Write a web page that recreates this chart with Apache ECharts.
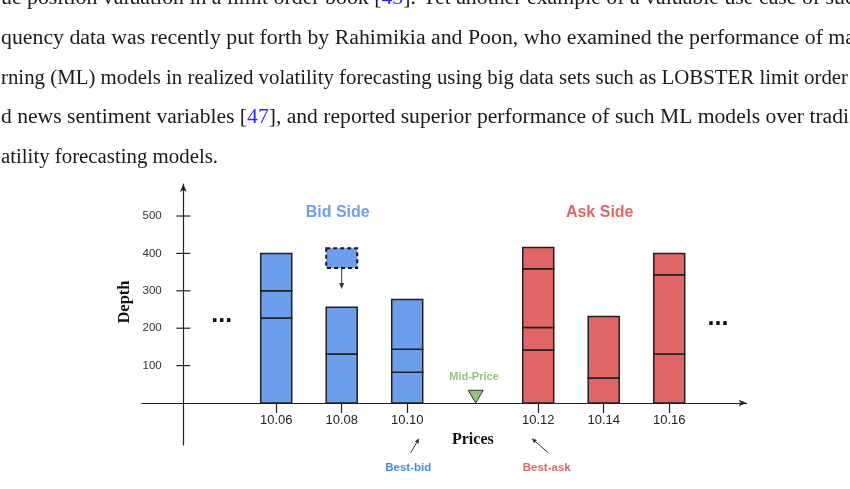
<!DOCTYPE html>
<html>
<head>
<meta charset="utf-8">
<script src="https://cdn.jsdelivr.net/npm/echarts@6/dist/echarts.min.js"></script>
<style>
html,body{margin:0;padding:0;background:#fff;}
#c{width:850px;height:489px;}
</style>
</head>
<body>
<div id="c"></div>
<script>
// ---------------- data ----------------
const categories = ['10.06', '10.08', '10.10', 'Mid-Price', '10.12', '10.14', '10.16'];
const sides      = ['bid', 'bid', 'bid', 'mid', 'ask', 'ask', 'ask'];
// order sizes at each price level, bottom to top
const level1 = [227, 131, 82, null, 142, 67, 131];
const level2 = [73, 125, 62, null, 60, 164, 212];
const level3 = [100, null, 133, null, 157, null, 57];
const level4 = [null, null, null, null, 57, null, null];
const depthTicks = [100, 200, 300, 400, 500];
// incoming order: price, low, high, arrow target depth
const incomingPrice = '10.08';
const incomingOrder = [361, 414, 305];
const sideTitles = ['Bid Side', 'Ask Side'];
const sideTitleAt = ['10.08', '10.14'];
const bestQuotes = ['Best-bid', 'Best-ask'];
const bestQuoteAt = ['10.10', '10.12'];
const paragraph = [
  'ue position valuation in a limit order book [{b|45}]. Yet another example of a valuable use case of such',
  'quency data was recently put forth by Rahimikia and Poon, who examined the performance of ma',
  'rning (ML) models in realized volatility forecasting using big data sets such as LOBSTER limit order',
  'd news sentiment variables [{b|47}], and reported superior performance of such ML models over tradi',
  'atility forecasting models.'
];

// ---------------- styles ----------------
const BLUE = '#6d9eeb', RED = '#e06666', GREEN = '#93c47d', INK = '#222';
const BAR_W = 31;
const Y_AXIS_SHIFT = 41.3;   // y axis drawn this far right of grid left edge
const X_AXIS_SHIFT = 42;     // x axis drawn this far above grid bottom edge

// ---------------- build ----------------
const levels = [level1, level2, level3, level4];
const segData = [];
categories.forEach((c, i) => {
  let base = 0;
  levels.forEach(lv => {
    const v = lv[i];
    if (v != null) { segData.push([i, base, base + v, sides[i] === 'bid' ? 0 : 1]); base += v; }
  });
});
const tickIdx = categories.map((c, i) => i).filter(i => sides[i] !== 'mid');
const midIdx = sides.indexOf('mid');

function arrow(x0, y0, x1, y1, len, hw, color, lw) {
  const dx = x1 - x0, dy = y1 - y0, L = Math.hypot(dx, dy), ux = dx / L, uy = dy / L;
  const bx = x1 - ux * len, by = y1 - uy * len;
  return [
    {type: 'line', shape: {x1: x0, y1: y0, x2: bx, y2: by}, style: {stroke: color, lineWidth: lw}},
    {type: 'polygon', shape: {points: [[x1, y1], [bx - uy * hw, by + ux * hw], [bx + uy * hw, by - ux * hw]]}, style: {fill: color}}
  ];
}

// paragraph text, each line stretched horizontally to the width of the LaTeX original
const FONT_PX = 20;
const ctx = document.createElement('canvas').getContext('2d');
ctx.font = FONT_PX + 'px "Liberation Serif"';
const lineRight = [null, 855, 848, 849, 218];   // right end of each visible line (layout)
const baselines = [2, 42, 81.5, 121, 161];
const plain = t => t.replace(/\{b\|([^}]*)\}/g, '$1');
const widths = paragraph.map(t => ctx.measureText(plain(t)).width);
const scales = lineRight.map((r, k) => r ? (r - 1) / widths[k] : null);
scales[0] = scales[1];
const paraGraphics = paragraph.map((t, k) => ({
  type: 'text', x: 1, y: baselines[k] - 0.15 * FONT_PX, scaleX: scales[k], originX: 0, silent: true,
  style: {
    text: t, fill: '#1a1a1a', font: FONT_PX + 'px "Liberation Serif"', verticalAlign: 'middle', align: 'left',
    rich: {b: {fill: '#2b2bff', fontSize: FONT_PX, fontFamily: 'Liberation Serif'}}
  }
}));

const yMin = -112.3, yMax = 585.6;

const option = {
  animation: false,
  grid: {left: 142, right: 103.3, top: 184, bottom: 44, containLabel: false, outerBoundsMode: 'none'},
  xAxis: {
    type: 'value', min: -2.049, max: 7.183, position: 'bottom', offset: -X_AXIS_SHIFT,
    axisLine: {show: true, onZero: false, symbol: ['none', 'arrow'], symbolSize: [5, 8], lineStyle: {color: INK, width: 1.2}},
    axisTick: {show: true, customValues: tickIdx, length: 10, lineStyle: {color: INK, width: 1.2}},
    axisLabel: {customValues: tickIdx, formatter: v => categories[Math.round(v)], margin: 11, fontSize: 13,
      color: INK, fontFamily: 'Liberation Sans'},
    splitLine: {show: false},
    name: 'Prices', nameLocation: 'middle', nameGap: 28.5, nameMoveOverlap: false,
    nameTextStyle: {fontFamily: 'Liberation Serif', fontWeight: 'bold', fontSize: 16, color: '#111', padding: [0, 0, 0, 57]}
  },
  yAxis: {
    type: 'value', min: yMin, max: yMax, position: 'left', offset: -Y_AXIS_SHIFT,
    splitLine: {show: false},
    axisLine: {show: true, onZero: false, symbol: ['none', 'arrow'], symbolSize: [5, 8], lineStyle: {color: INK, width: 1.2}},
    axisTick: {show: false},
    axisLabel: {customValues: depthTicks, margin: 21.6, fontSize: 11.5, color: '#333', fontFamily: 'Liberation Sans'},
    name: 'Depth', nameLocation: 'middle', nameGap: 50, nameMoveOverlap: false,
    nameTextStyle: {fontFamily: 'Liberation Serif', fontWeight: 'bold', fontSize: 16.5, color: '#111', padding: [0, 0, 0, 25]}
  },
  graphic: paraGraphics.concat([
    {type: 'text', x: 221.7, y: 315.5, silent: true, style: {text: '...', font: 'bold 25px "Liberation Sans"', fill: '#111', align: 'center', verticalAlign: 'middle'}},
    {type: 'text', x: 718, y: 318, silent: true, style: {text: '...', font: 'bold 25px "Liberation Sans"', fill: '#111', align: 'center', verticalAlign: 'middle'}}
  ]),
  series: [
    {
      type: 'custom', name: 'depth ticks', clip: false, silent: true,
      data: depthTicks.map(v => [0, v]), encode: {x: 0, y: 1},
      renderItem: (params, api) => {
        const y = api.coord([0, api.value(1)])[1];
        const x = params.coordSys.x + Y_AXIS_SHIFT;
        return {type: 'line', shape: {x1: x - 7, y1: y, x2: x + 7, y2: y}, style: {stroke: INK, lineWidth: 1.2}};
      }
    },
    {
      type: 'custom', name: 'depth', clip: false, silent: true,
      data: segData, encode: {x: 0, y: [1, 2]},
      renderItem: (params, api) => {
        const x = api.value(0), lo = api.value(1), hi = api.value(2);
        const p0 = api.coord([x, lo]), p1 = api.coord([x, hi]);
        return {type: 'rect', shape: {x: p0[0] - BAR_W / 2, y: p1[1], width: BAR_W, height: p0[1] - p1[1]},
          style: {fill: api.value(3) ? RED : BLUE, stroke: '#1f1f1f', lineWidth: 1.5}};
      }
    },
    {
      type: 'custom', name: 'incoming', clip: false, silent: true,
      data: [[categories.indexOf(incomingPrice)].concat(incomingOrder)], encode: {x: 0, y: [1, 2, 3]},
      renderItem: (params, api) => {
        const x = api.value(0);
        const pLo = api.coord([x, api.value(1)]), pHi = api.coord([x, api.value(2)]), pT = api.coord([x, api.value(3)]);
        return {type: 'group', children: [
          {type: 'rect', shape: {x: pLo[0] - BAR_W / 2, y: pHi[1], width: BAR_W, height: pLo[1] - pHi[1]},
            style: {fill: BLUE, stroke: '#1a1a1a', lineWidth: 2, lineDash: [4, 3]}}
        ].concat(arrow(pLo[0], pLo[1] + 1, pT[0], pT[1], 6, 2.5, '#333', 1))};
      }
    },
    {
      type: 'custom', name: 'mid', clip: false, silent: true,
      data: [[midIdx, 0]], encode: {x: 0, y: 1},
      renderItem: (params, api) => {
        const p = api.coord([api.value(0), api.value(1)]);
        const x = p[0] + 3, y = p[1];
        return {type: 'group', children: [
          {type: 'polygon', shape: {points: [[x - 7.5, y - 12.7], [x + 7.5, y - 12.7], [x, y]]},
            style: {fill: GREEN, stroke: '#333', lineWidth: 1}},
          {type: 'text', x: x - 1.7, y: y - 26.3, style: {text: 'Mid-Price', font: 'bold 11px "Liberation Sans"', fill: GREEN, align: 'center', verticalAlign: 'middle'}}
        ]};
      }
    },
    {
      type: 'custom', name: 'titles', clip: false, silent: true,
      data: sideTitleAt.map(c => [categories.indexOf(c), 509]), encode: {x: 0, y: 1},
      renderItem: (params, api) => {
        const p = api.coord([api.value(0), api.value(1)]);
        return {type: 'text', x: p[0] - 4, y: p[1], style: {text: sideTitles[params.dataIndex],
          font: 'bold 16px "Liberation Sans"', fill: params.dataIndex ? RED : BLUE, align: 'center', verticalAlign: 'middle'}};
      }
    },
    {
      type: 'custom', name: 'best', clip: false, silent: true,
      data: bestQuoteAt.map(c => [categories.indexOf(c), 0]), encode: {x: 0, y: 1},
      renderItem: (params, api) => {
        const p = api.coord([api.value(0), api.value(1)]);
        const ask = params.dataIndex === 1;
        const x = p[0], y = p[1];
        const a = ask ? arrow(x + 10, y + 49.7, x - 6.5, y + 35.3, 5, 2.2, '#333', 1)
                      : arrow(x + 3.5, y + 49.7, x + 12, y + 35.3, 5, 2.2, '#333', 1);
        return {type: 'group', children: a.concat([
          {type: 'text', x: ask ? x + 8.5 : x + 1, y: y + 65.3, style: {text: bestQuotes[params.dataIndex],
            font: 'bold 11.5px "Liberation Sans"', fill: ask ? RED : '#4a86e8', align: 'center', verticalAlign: 'middle'}}
        ])};
      }
    }
  ]
};

const chart = echarts.init(document.getElementById('c'), null, {renderer: 'canvas'});
chart.setOption(option);
</script>
</body>
</html>
